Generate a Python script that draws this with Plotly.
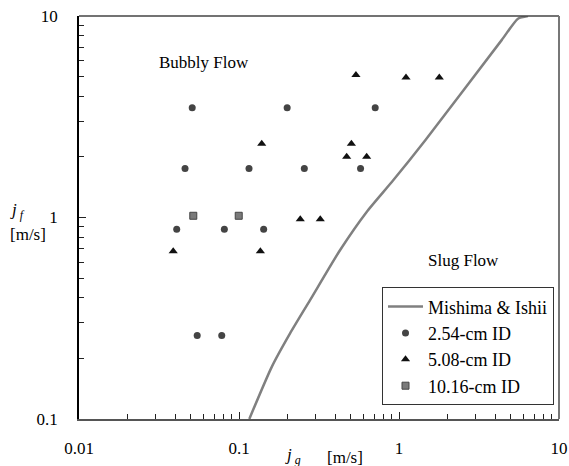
import plotly.graph_objects as go

# Mishima & Ishii transition curve
curve_jg = [0.116, 0.16, 0.2085, 0.278, 0.4277, 0.628, 0.92, 1.46, 4.38, 5.54, 6.4]
curve_jf = [0.1, 0.181, 0.266, 0.389, 0.688, 1.066, 1.53, 2.42, 7.59, 9.7, 10.0]

# 2.54-cm ID
d1_jg = [0.051, 0.2, 0.71, 0.046, 0.1155, 0.256, 0.575, 0.0408, 0.081, 0.1426, 0.0548, 0.078]
d1_jf = [3.5, 3.5, 3.5, 1.75, 1.75, 1.75, 1.75, 0.875, 0.875, 0.875, 0.26, 0.26]

# 5.08-cm ID
d2_jg = [0.538, 1.106, 1.786, 0.1387, 0.504, 0.471, 0.628, 0.2415, 0.322, 0.0388, 0.136]
d2_jf = [5.1, 4.95, 4.95, 2.32, 2.32, 2.0, 2.0, 0.98, 0.98, 0.68, 0.68]

# 10.16-cm ID
d3_jg = [0.0518, 0.0996]
d3_jf = [1.02, 1.02]

x_ticks = [0.01, 0.1, 1, 10]
x_labels = ["0.01", "0.1", "1", "10"]
y_ticks = [0.1, 1, 10]
y_labels = ["0.1", "1", "10"]

serif = "Liberation Serif, Times New Roman, serif"
minor_vals = [m * 10 ** e for e in range(-2, 1) for m in range(2, 10)]

fig = go.Figure()
fig.add_trace(go.Scatter(x=curve_jg, y=curve_jf, mode="lines", name="Mishima & Ishii",
                         line=dict(color="#808080", width=2.5, shape="spline", smoothing=0.6)))
fig.add_trace(go.Scatter(x=d1_jg, y=d1_jf, mode="markers", name="2.54-cm ID",
                         marker=dict(symbol="circle", size=7, color="#444444")))
fig.add_trace(go.Scatter(x=d2_jg, y=d2_jf, mode="markers", name="5.08-cm ID",
                         marker=dict(symbol="triangle-up", size=8, color="#111111")))
fig.add_trace(go.Scatter(x=d3_jg, y=d3_jf, mode="markers", name="10.16-cm ID",
                         marker=dict(symbol="square", size=7, color="#7a7a7a",
                                     line=dict(color="#444444", width=1))))

fig.update_xaxes(type="log", range=[-2, 1], tickmode="array", tickvals=x_ticks, ticktext=x_labels,
                 ticks="inside", ticklen=7, tickcolor="#222", showgrid=False, zeroline=False,
                 showline=True, linecolor="#555555", linewidth=1.5, ticklabelstandoff=13,
                 automargin=False, ticklabeloverflow="allow",
                 minor=dict(tickmode="array", tickvals=minor_vals, ticks="inside", ticklen=5,
                            tickcolor="#222", showgrid=False),
                 tickfont=dict(family=serif, size=17, color="black"))
fig.update_yaxes(type="log", range=[-1, 1], tickmode="array", tickvals=y_ticks, ticktext=y_labels,
                 ticks="inside", ticklen=7, tickcolor="#222", showgrid=False, zeroline=False,
                 showline=True, linecolor="black", linewidth=1.5, ticklabelstandoff=16,
                 automargin=False, ticklabeloverflow="allow",
                 minor=dict(tickmode="array", tickvals=[v * 10 for v in minor_vals], ticks="inside",
                            ticklen=5, tickcolor="#222", showgrid=False),
                 tickfont=dict(family=serif, size=17, color="black"))

# top and right frame lines
fig.add_shape(type="line", xref="paper", yref="paper", x0=0, x1=1, y0=1, y1=1,
              line=dict(color="#444444", width=1.5))
fig.add_shape(type="line", xref="paper", yref="paper", x0=1, x1=1, y0=0, y1=1,
              line=dict(color="#777777", width=2))

notes = [
    ("Bubbly Flow", 0.26, 0.885),
    ("Slug Flow", 0.802, 0.394),
    ("<i>j</i><sub> <i>g</i></sub>", 0.445, -0.092),
    ("[m/s]", 0.555, -0.095),
    ("<i>j</i><sub> <i>f</i></sub>", -0.129, 0.515),
    ("[m/s]", -0.106, 0.458),
]
for txt, xp, yp in notes:
    fig.add_annotation(text=txt, x=xp, y=yp, xref="paper", yref="paper", showarrow=False,
                       xanchor="center", yanchor="middle",
                       font=dict(family=serif, size=17, color="black"))

fig.update_layout(
    width=569, height=466,
    margin=dict(l=79, r=10, t=15.5, b=47.3, autoexpand=False),
    paper_bgcolor="white", plot_bgcolor="white",
    font=dict(family=serif, size=17, color="black"),
    legend=dict(x=0.9896, y=0.034, xanchor="right", yanchor="bottom",
                bgcolor="white", bordercolor="#333333", borderwidth=1,
                font=dict(family=serif, size=18), tracegroupgap=0, itemwidth=35),
)

# drop the default page margin so the figure sits at the window corner
fig.write_html("out.html", config={"displayModeBar": False},
               post_script="document.body.style.margin='0';")
